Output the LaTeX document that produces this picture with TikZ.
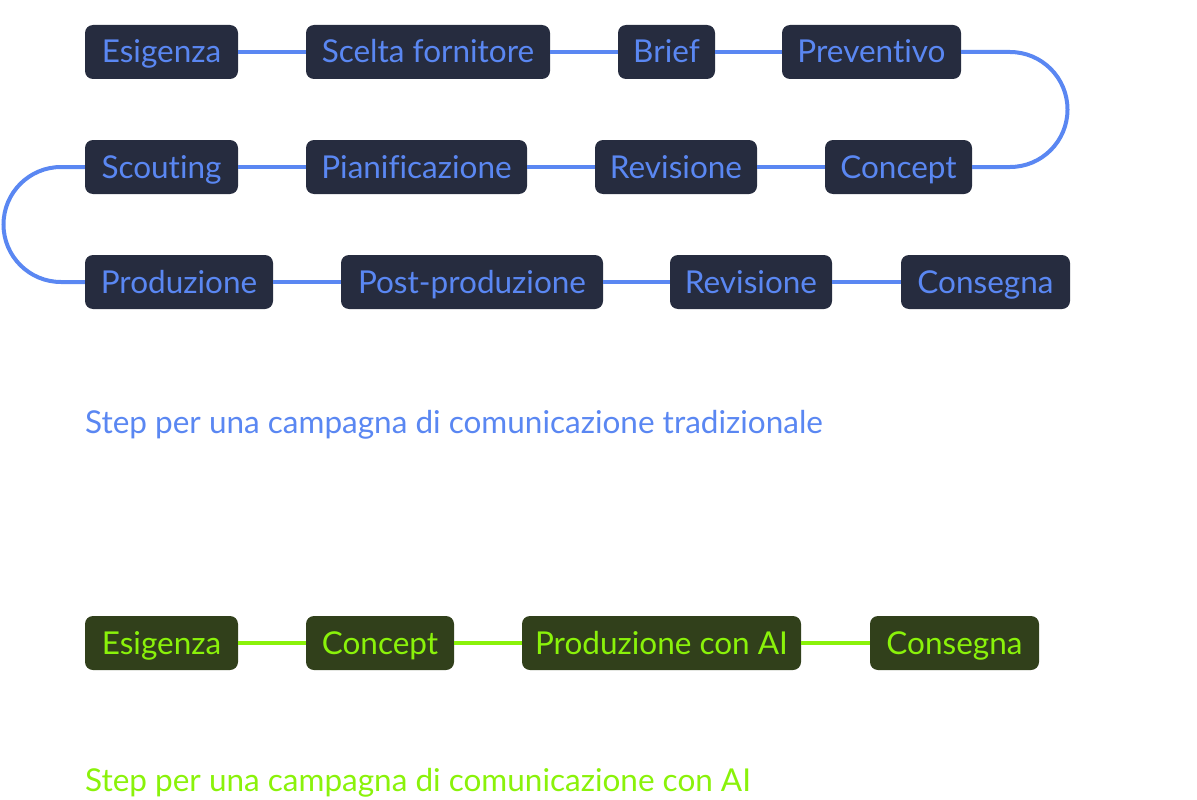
\documentclass[tikz,border=0pt]{standalone}
\usepackage{fontspec}
\setmainfont{Lato}[Ligatures=CommonOff]
\usepackage{xcolor}
\usetikzlibrary{calc}
\definecolor{stepblue}{HTML}{5A87F2}
\definecolor{stepnavy}{HTML}{262C3F}
\definecolor{aigreen}{HTML}{8AF20A}
\definecolor{aidark}{HTML}{31401B}
\tikzset{
  stepbox/.style={fill=stepnavy,text=stepblue,rounded corners=8pt,minimum height=54pt,inner xsep=0pt,
    text height=25pt,text depth=3pt,font=\fontsize{31.5}{34}\selectfont},
  aibox/.style={stepbox,fill=aidark,text=aigreen},
  steplink/.style={draw=stepblue,line width=4pt},
  ailink/.style={draw=aigreen,line width=4pt},
  caption/.style={anchor=base west,inner sep=0pt,font=\fontsize{31.5}{34}\selectfont}
}

\begin{document}
\begin{tikzpicture}[x=1pt,y=-1pt]
      \useasboundingbox (0,0) rectangle (1197,800);
      % traditional campaign
      \node[stepbox,minimum width=153pt] (esig) at (161.5,52) {Esigenza};
      \node[stepbox,minimum width=244pt] (scelta) at (428,52) {Scelta fornitore};
      \node[stepbox,minimum width=97pt] (brief) at (666.5,52) {Brief};
      \node[stepbox,minimum width=179pt] (prev) at (871.5,52) {Preventivo};
      \node[stepbox,minimum width=153pt] (scout) at (161.5,167) {Scouting};
      \node[stepbox,minimum width=221pt] (pian) at (416.5,167) {Pianificazione};
      \node[stepbox,minimum width=162pt] (rev) at (676,167) {Revisione};
      \node[stepbox,minimum width=147pt] (conc) at (898.5,167) {Concept};
      \node[stepbox,minimum width=188pt] (prod) at (179,282) {Produzione};
      \node[stepbox,minimum width=262pt] (post) at (472,282) {Post-produzione};
      \node[stepbox,minimum width=162pt] (revb) at (751,282) {Revisione};
      \node[stepbox,minimum width=169pt] (cons) at (985.5,282) {Consegna};
      \draw[steplink] (esig) -- (scelta) (scelta) -- (brief) (brief) -- (prev);
      \draw[steplink] (conc) -- (rev) (rev) -- (pian) (pian) -- (scout);
      \draw[steplink] (prod) -- (post) (post) -- (revb) (revb) -- (cons);
      \draw[steplink] (prev.east) -- (1010,52) arc[start angle=90,end angle=-90,radius=57.5pt] -- (conc.east);
      \draw[steplink] (scout.west) -- (61,167) arc[start angle=90,end angle=270,radius=57.5pt] -- (prod.west);
      \node[caption,text=stepblue] (captrad) at (85,433) {Step per una campagna di comunicazione tradizionale};
      % campaign with AI
      \node[aibox,minimum width=153pt] (aiesig) at (161.5,643) {Esigenza};
      \node[aibox,minimum width=148pt] (aiconc) at (380,643) {Concept};
      \node[aibox,minimum width=279pt] (aiprod) at (661.5,643) {Produzione con AI};
      \node[aibox,minimum width=169pt] (aicons) at (954.5,643) {Consegna};
      \draw[ailink] (aiesig) -- (aiconc) (aiconc) -- (aiprod) (aiprod) -- (aicons);
      \node[caption,text=aigreen] (capai) at (85,791) {Step per una campagna di comunicazione con AI};
    \end{tikzpicture}
\end{document}
